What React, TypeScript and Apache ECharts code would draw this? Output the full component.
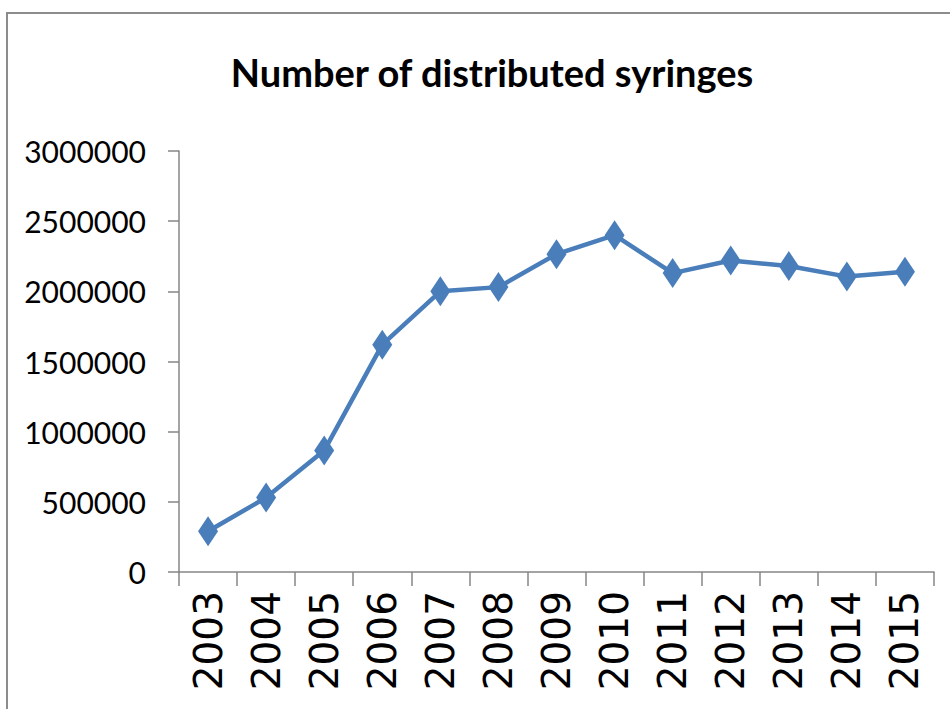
import React, { useEffect, useRef } from "react";
import * as echarts from "echarts";

const years = ["2003", "2004", "2005", "2006", "2007", "2008", "2009", "2010", "2011", "2012", "2013", "2014", "2015"];
const syringes = [290000, 530000, 865000, 1620000, 2000000, 2030000, 2265000, 2400000, 2130000, 2220000, 2180000, 2105000, 2140000];
const titleText = "Number of distributed syringes";

export default function App() {
  const ref = useRef<HTMLDivElement>(null);
  useEffect(() => {
    if (!ref.current) return;
    const chart = echarts.init(ref.current, null, { renderer: "svg" });
    chart.setOption({
      animation: false,
      backgroundColor: "#ffffff",
      graphic: [
        {
          type: "rect",
          shape: { x: 7, y: 13, width: 1000, height: 1000 },
          style: { fill: "none", stroke: "#8c8c8c", lineWidth: 2 },
          silent: true,
        },
      ],
      title: {
        text: titleText,
        left: 487,
        top: 48,
        textAlign: "center",
        textStyle: {
          fontFamily: "Lato",
          fontWeight: "bold",
          fontSize: 38,
          color: "#000000",
        },
      },
      grid: { left: 179, right: 16, top: 151, bottom: 137, containLabel: false },
      xAxis: {
        type: "category",
        data: years,
        boundaryGap: true,
        axisLine: { lineStyle: { color: "#868686", width: 1.5 } },
        axisTick: { show: true, length: 14, inside: false, alignWithLabel: false, lineStyle: { color: "#868686", width: 1.5 } },
        axisLabel: {
          rotate: 90,
          margin: 19,
          fontFamily: "DejaVu Sans",
          fontSize: 39,
          color: "#000000",
        },
        splitLine: { show: false },
      },
      yAxis: {
        type: "value",
        min: 0,
        max: 3000000,
        interval: 500000,
        axisLine: { show: true, lineStyle: { color: "#868686", width: 1.5 } },
        axisTick: { show: true, length: 11, lineStyle: { color: "#868686", width: 1.5 } },
        axisLabel: {
          margin: 33,
          fontFamily: "Lato",
          fontSize: 30,
          color: "#000000",
          formatter: (v: number) => String(v),
        },
        splitLine: { show: false },
      },
      series: [
        {
          type: "line",
          data: syringes,
          symbol: "diamond",
          symbolSize: [20, 30],
          lineStyle: { color: "#4a7ebb", width: 4.5 },
          itemStyle: { color: "#4a7ebb" },
        },
      ],
    });
    return () => chart.dispose();
  }, []);
  return (
    <div
      ref={ref}
      style={{ position: "absolute", left: 0, top: 0, width: 950, height: 709 }}
    />
  );
}
